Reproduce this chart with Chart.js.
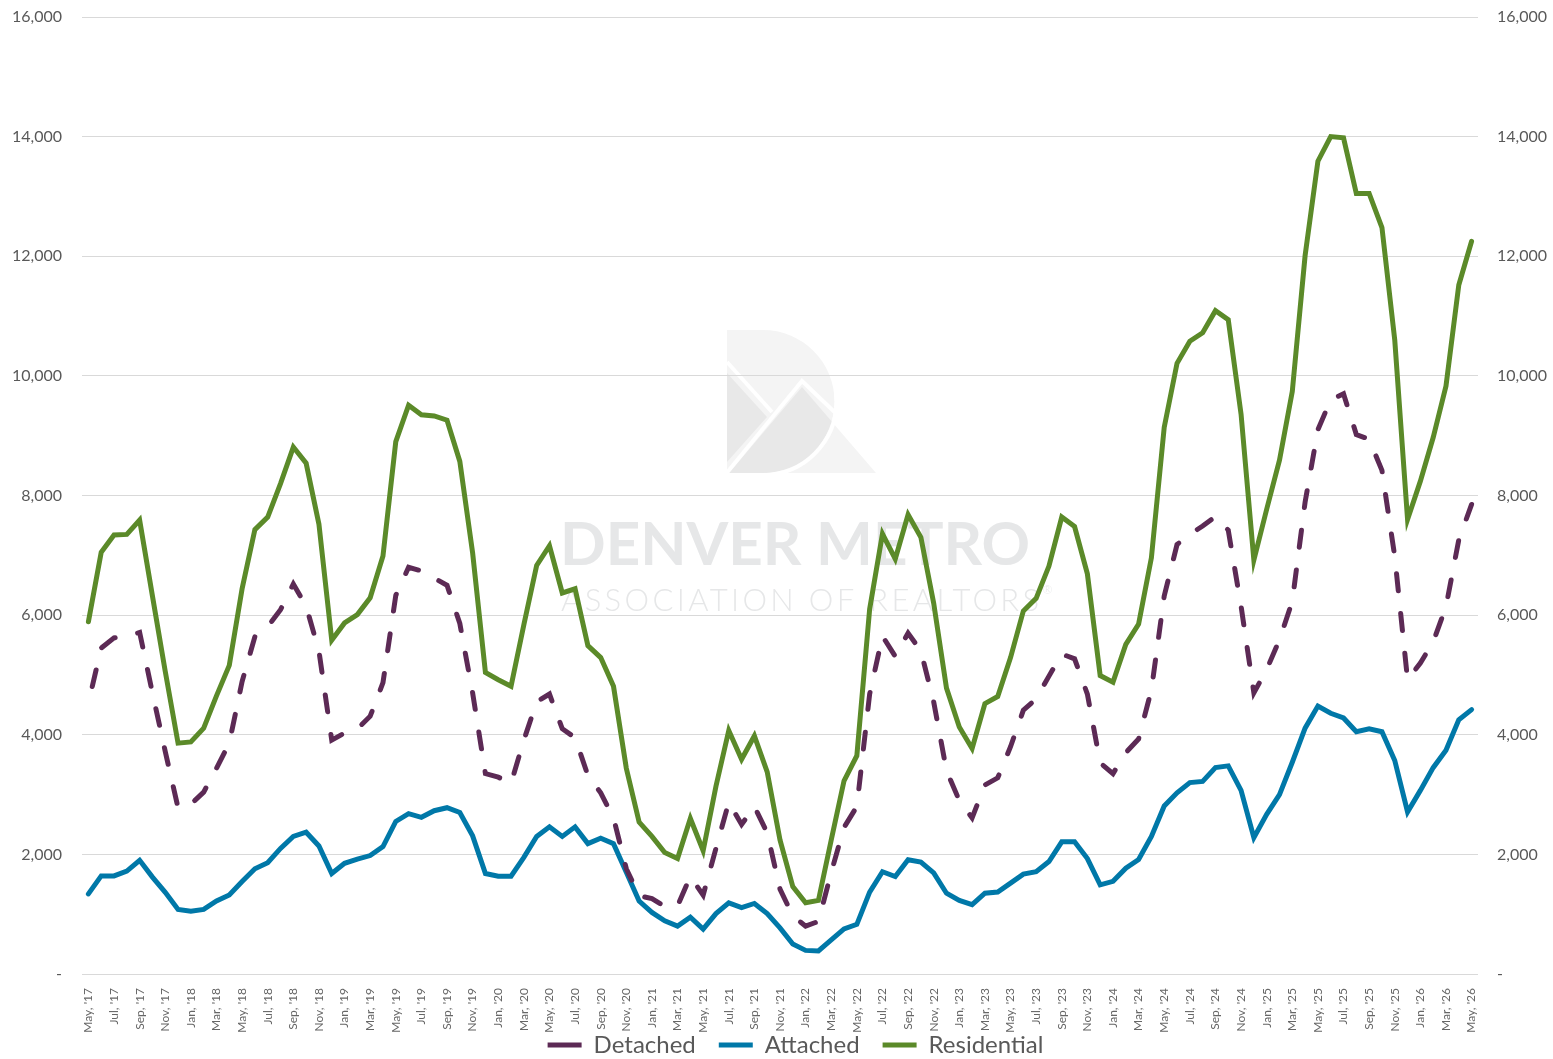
<!DOCTYPE html>
<html>
<head>
<meta charset="utf-8">
<script src="https://cdn.jsdelivr.net/npm/chart.js@4.4.1/dist/chart.umd.min.js"></script>
<style>
  html, body { margin: 0; padding: 0; background: #fff; }
  #wrap { width: 1553px; height: 1059px; position: relative; }
</style>
</head>
<body>
<div id="wrap"><canvas id="chart"></canvas></div>
<script>
const monthNames = ['Jan', 'Feb', 'Mar', 'Apr', 'May', 'Jun', 'Jul', 'Aug', 'Sep', 'Oct', 'Nov', 'Dec'];
const firstMonth = 4;   // May
const firstYear = 17;   // '17
const monthCount = 109; // May '17 .. May '26

const categories = [];
for (let i = 0; i < monthCount; i++) {
    const m = (firstMonth + i) % 12;
    const y = firstYear + Math.floor((firstMonth + i) / 12);
    categories.push(monthNames[m] + ", '" + y);
}

const yTicks = [0, 2000, 4000, 6000, 8000, 10000, 12000, 14000, 16000];

const detached = [
    4530, 5450, 5620, 5650, 5710, 4700, 3720, 2780, 2840, 3040, 3440, 3860,
    4890, 5640, 5810, 6090, 6520, 6150, 5400, 3910, 4030, 4100, 4310, 4870,
    6330, 6800, 6740, 6620, 6500, 5860, 4700, 3350, 3290, 3190, 3910, 4550,
    4680, 4100, 3950, 3320, 3030, 2610, 1760, 1310, 1260, 1130, 1140, 1630,
    1320, 2100, 2870, 2500, 2800, 2360, 1420, 970, 800, 880, 1700, 2450,
    2800, 4680, 5650, 5310, 5700, 5400, 4550, 3400, 2900, 2610, 3160, 3280,
    3800, 4410, 4600, 4980, 5350, 5270, 4680, 3530, 3350, 3700, 3930, 4750,
    6320, 7180, 7350, 7490, 7650, 7420, 6150, 4700, 5090, 5590, 6230, 7890,
    9100, 9600, 9700, 9020, 8940, 8420, 6980, 4920, 5200, 5550, 6140, 7260,
    7850
];

const attached = [
    1340, 1640, 1640, 1720, 1900, 1620, 1365, 1080, 1050, 1080, 1220, 1320,
    1545, 1760, 1860, 2100, 2300, 2370, 2140, 1680, 1850, 1920, 1980, 2130,
    2550, 2680, 2620, 2730, 2780, 2700, 2310, 1680, 1635, 1635, 1950, 2300,
    2460, 2300, 2460, 2180, 2270, 2180, 1700, 1220, 1030, 890, 800, 950,
    750, 1010, 1190, 1110, 1180, 1010, 770, 500, 395, 385, 570, 755,
    830, 1370, 1710, 1630, 1910, 1870, 1690, 1350, 1230, 1160, 1350, 1370,
    1520, 1670, 1710, 1880, 2210, 2210, 1930, 1490, 1550, 1770, 1915, 2300,
    2810, 3030, 3200, 3220, 3450, 3480, 3070, 2280, 2670, 3000, 3540, 4110,
    4480, 4360, 4280, 4050, 4100, 4050, 3570, 2710, 3070, 3450, 3740, 4250,
    4420
];

const residential = [
    5890, 7050, 7340, 7350, 7590, 6320, 5060, 3860, 3880, 4110, 4650, 5160,
    6440, 7430, 7640, 8200, 8810, 8540, 7520, 5580, 5870, 6010, 6290, 6990,
    8900, 9510, 9350, 9330, 9260, 8570, 7040, 5040, 4920, 4810, 5840, 6830,
    7160, 6370, 6440, 5490, 5290, 4810, 3440, 2540, 2300, 2030, 1930, 2600,
    2060, 3140, 4070, 3590, 3980, 3380, 2240, 1460, 1190, 1230, 2240, 3230,
    3650, 6100, 7360, 6940, 7680, 7300, 6200, 4780, 4130, 3770, 4520, 4640,
    5290, 6070, 6280, 6820, 7640, 7480, 6690, 4990, 4880, 5510, 5850, 6960,
    9140, 10210, 10580, 10720, 11090, 10940, 9360, 6920, 7770, 8590, 9740, 12010,
    13590, 14000, 13980, 13050, 13050, 12480, 10600, 7600, 8240, 8970, 9830, 11520,
    12250
];

const textGrey = '#595959';
const fontFamily = 'Lato, "Open Sans", sans-serif';

function formatTick(value) {
    if (value === 0) return '-';
    return value.toLocaleString('en-US');
}

// tick labels may hang outside their axis box (rotated month labels, left labels)
function noLabelClip(scale) {
    scale._computeLabelArea = () => null;
}

// y axes: no extra room above/below for the end labels
function fitYAxis(scale, width) {
    scale.width = width;
    scale.paddingTop = 0;
    scale.paddingBottom = 0;
    noLabelClip(scale);
}

// faint Denver Metro watermark behind the grid
const watermarkPlugin = {
    id: 'watermark',
    beforeDraw(chart) {
        const ctx = chart.ctx;
        ctx.save();

        // D logo
        const lx = 727, top = 330, bot = 473, r = (bot - top) / 2, cx = 763;
        const dPath = new Path2D();
        dPath.moveTo(lx, top);
        dPath.lineTo(cx, top);
        dPath.arc(cx, top + r, r, -Math.PI / 2, Math.PI / 2);
        dPath.lineTo(lx, bot);
        dPath.closePath();

        const peakX = 802, peakY = 387;
        const mountain = new Path2D();
        mountain.moveTo(lx + 2, bot);
        mountain.lineTo(peakX, peakY);
        mountain.lineTo(876, bot);
        mountain.closePath();

        ctx.fillStyle = '#f4f4f4';
        ctx.fill(dPath);
        ctx.fill(mountain);

        ctx.save();
        ctx.clip(dPath);
        ctx.fillStyle = '#e8e8e8';
        ctx.fill(mountain);
        ctx.beginPath();
        ctx.moveTo(lx, 373);
        ctx.lineTo(767, 417);
        ctx.lineTo(lx, 462);
        ctx.closePath();
        ctx.fill();
        ctx.restore();

        ctx.strokeStyle = '#ffffff';
        ctx.lineWidth = 4;
        ctx.beginPath();
        ctx.moveTo(lx, 362);
        ctx.lineTo(772, 412);
        ctx.stroke();
        ctx.beginPath();
        ctx.moveTo(lx - 2, bot + 2);
        ctx.lineTo(peakX, peakY - 6);
        ctx.lineTo(890, bot - 8);
        ctx.stroke();
        ctx.beginPath();
        ctx.arc(cx, top + r, r + 2, -0.1, Math.PI / 2);
        ctx.stroke();

        // words
        ctx.fillStyle = '#e6e7e8';
        ctx.textBaseline = 'alphabetic';
        ctx.textAlign = 'left';
        ctx.font = 'bold 64px ' + fontFamily;
        let w = ctx.measureText('DENVER METRO').width;
        let size = 64 * 470 / w;
        ctx.font = 'bold ' + size.toFixed(1) + 'px ' + fontFamily;
        ctx.fillText('DENVER METRO', 560, 565);

        ctx.font = '300 31px ' + fontFamily;
        const sub = 'ASSOCIATION OF REALTORS';
        w = ctx.measureText(sub).width;
        const spacing = (478 - w) / (sub.length - 1);
        ctx.letterSpacing = spacing.toFixed(2) + 'px';
        ctx.fillText(sub, 561, 611);
        const subW = ctx.measureText(sub).width;
        ctx.letterSpacing = '0px';
        ctx.font = '300 12px ' + fontFamily;
        ctx.fillText('®', 561 + subW, 594);

        ctx.restore();
    }
};

new Chart(document.getElementById('chart'), {
    type: 'line',
    data: {
        labels: categories,
        datasets: [
            {
                label: 'Detached',
                data: detached,
                borderColor: '#5c2a55',
                backgroundColor: '#5c2a55',
                borderWidth: 5,
                borderDash: [17, 23],
                borderDashOffset: 23,
                borderCapStyle: 'round',
                pointRadius: 0,
                tension: 0,
                yAxisID: 'y'
            },
            {
                label: 'Attached',
                data: attached,
                borderColor: '#0078a8',
                backgroundColor: '#0078a8',
                borderWidth: 5,
                borderCapStyle: 'round',
                pointRadius: 0,
                tension: 0,
                yAxisID: 'y'
            },
            {
                label: 'Residential',
                data: residential,
                borderColor: '#5b8a29',
                backgroundColor: '#5b8a29',
                borderWidth: 5,
                borderCapStyle: 'round',
                pointRadius: 0,
                tension: 0,
                yAxisID: 'y'
            }
        ]
    },
    options: {
        responsive: true,
        maintainAspectRatio: false,
        animation: false,
        layout: {
            // left padding only nudges the centred legend to the right
            padding: { top: 17, left: 38, right: 0, bottom: -8 }
        },
        plugins: {
            legend: {
                position: 'bottom',
                labels: {
                    usePointStyle: true,
                    pointStyle: 'line',
                    pointStyleWidth: 34,
                    padding: 23,
                    color: textGrey,
                    font: { family: fontFamily, size: 24 }
                }
            },
            tooltip: { enabled: false }
        },
        scales: {
            x: {
                offset: true,
                grid: { display: false },
                border: { display: false },
                ticks: {
                    autoSkip: false,
                    minRotation: 90,
                    maxRotation: 90,
                    padding: 6,
                    color: '#666666',
                    font: { family: fontFamily, size: 12 },
                    callback: function (value, index) {
                        return index % 2 === 0 ? categories[index] : '';
                    }
                },
                afterFit: scale => { scale.height = 36; noLabelClip(scale); }
            },
            y: {
                position: 'left',
                min: yTicks[0],
                max: yTicks[yTicks.length - 1],
                afterBuildTicks: scale => { scale.ticks = yTicks.map(v => ({ value: v })); },
                grid: { color: '#d9d9d9', lineWidth: 1, drawTicks: false },
                border: { display: false },
                ticks: {
                    padding: 20,
                    color: textGrey,
                    font: { family: fontFamily, size: 16 },
                    callback: formatTick
                },
                afterFit: scale => fitYAxis(scale, 44)
            },
            y2: {
                position: 'right',
                min: yTicks[0],
                max: yTicks[yTicks.length - 1],
                afterBuildTicks: scale => { scale.ticks = yTicks.map(v => ({ value: v })); },
                grid: { display: false, drawTicks: false },
                border: { display: false },
                ticks: {
                    padding: 19,
                    color: textGrey,
                    font: { family: fontFamily, size: 16 },
                    callback: formatTick
                },
                afterFit: scale => fitYAxis(scale, 75)
            }
        }
    },
    plugins: [watermarkPlugin]
});
</script>
</body>
</html>
